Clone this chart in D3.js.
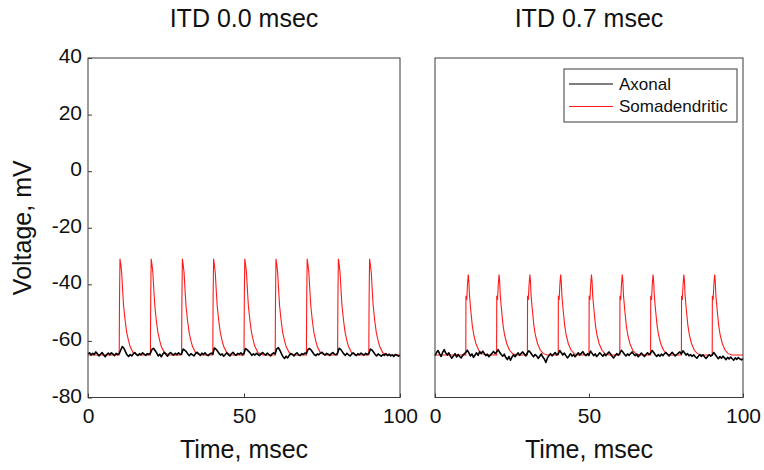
<!DOCTYPE html>
<html>
<head>
<meta charset="utf-8">
<script src="https://cdn.jsdelivr.net/npm/d3@7"></script>
<style>
	body { margin: 0; background: #fff; }
	text { font-family: "Liberation Sans", Arial, Helvetica, sans-serif; fill: #111; }
</style>
</head>
<body>
<div id="chart"></div>
<script>

// ----------------------------------
// DATA
// ----------------------------------

const panelTitles = ['ITD 0.0 msec', 'ITD 0.7 msec'];
const seriesNames = ['Axonal', 'Somadendritic'];
const timeTicks = [0, 50, 100];
const voltageTicks = [40, 20, 0, -20, -40, -60, -80];

// spike onset times (msec), same in both panels
const spikeOnsets = [10, 20, 30, 40, 50, 60, 70, 80, 90];
const restVoltage = -65;

// somadendritic spike waveform: [msec after onset, mV]
const spikeShape00 = [[0, -65], [0.1, -45], [0.25, -31], [0.5, -33], [0.8, -36], [1.1, -42],
	[1.4, -47.5], [1.9, -52.8], [2.4, -57], [3.0, -60], [3.5, -62], [4.5, -64.2], [6, -65]];
const spikeShape07 = [[0, -65], [0.05, -44], [0.3, -45.5], [0.55, -40], [0.8, -36.5], [1.0, -39],
	[1.2, -44], [1.6, -49], [2.1, -54.5], [2.6, -58], [3.3, -61], [4.2, -63.3], [5.2, -64.5], [6.5, -65]];

// axonal voltage, one sample every 0.5 msec from 0 to 100
const axonalStep = 0.5;
const axonal00 = [
	-64.6,-64.2,-65.0,-64.4,-64.8,-63.9,-64.5,-65.3,-64.7,-64.1,-64.9,-65.6,-64.8,-64.3,-64.9,-64.2,-64.7,-65.2,-64.4,-64.8,
	-64.5,-63.2,-62.0,-62.6,-63.8,-64.9,-65.5,-64.8,-65.3,-64.6,-64.1,-64.8,-65.2,-64.5,-64.9,-64.2,-64.7,-65.1,-64.5,-64.8,
	-64.3,-63.0,-62.6,-63.4,-64.2,-65.3,-64.7,-65.6,-64.6,-64.0,-64.8,-65.4,-64.5,-64.1,-64.7,-65.0,-64.4,-64.9,-64.2,-64.7,
	-64.6,-62.9,-63.3,-63.8,-64.6,-65.2,-64.5,-64.9,-65.3,-64.4,-64.0,-64.6,-65.1,-64.3,-64.8,-64.2,-64.9,-65.2,-64.6,-64.3,
	-64.7,-62.5,-62.9,-63.6,-64.4,-65.0,-64.6,-65.4,-64.8,-64.2,-64.9,-65.3,-64.5,-64.0,-64.8,-65.1,-64.4,-64.7,-64.2,-64.9,
	-64.4,-62.7,-63.1,-63.7,-64.3,-65.1,-64.6,-65.0,-64.4,-64.8,-65.2,-64.5,-64.1,-64.7,-65.0,-64.3,-64.8,-65.3,-64.6,-64.2,
	-64.6,-62.8,-62.4,-63.3,-64.5,-65.6,-66.2,-65.4,-66.0,-65.1,-64.5,-64.8,-65.3,-64.6,-64.2,-64.9,-65.2,-64.5,-64.8,-64.3,
	-64.5,-63.0,-62.7,-63.2,-64.0,-64.8,-65.2,-64.6,-64.9,-64.3,-64.0,-64.6,-65.0,-64.4,-64.7,-65.1,-64.5,-64.1,-64.7,-64.9,
	-64.3,-62.6,-63.0,-63.8,-64.6,-65.1,-64.4,-64.9,-65.3,-64.7,-64.2,-64.8,-65.2,-64.5,-64.9,-64.3,-64.7,-65.0,-64.4,-64.8,
	-64.5,-62.9,-63.2,-63.9,-64.7,-65.3,-64.6,-65.0,-65.4,-64.8,-65.1,-64.5,-65.2,-64.7,-65.3,-64.9,-65.5,-64.8,-65.0,-65.4,
	-65.1
];
const axonal07 = [
	-65.2,-64.1,-63.4,-64.6,-65.5,-64.0,-63.1,-64.3,-65.0,-64.2,-65.4,-66.1,-65.3,-64.5,-65.7,-64.8,-65.5,-66.0,-65.1,-64.6,
	-64.0,-63.3,-64.2,-65.3,-64.6,-65.8,-65.0,-64.2,-65.1,-63.8,-64.5,-63.6,-64.4,-65.2,-64.7,-65.6,-65.0,-64.4,-63.7,-64.5,
	-63.9,-63.1,-64.0,-64.8,-65.4,-64.7,-65.9,-66.6,-65.5,-66.8,-65.7,-64.9,-65.6,-64.8,-64.2,-65.1,-64.4,-63.9,-64.6,-65.3,
	-64.2,-63.5,-64.1,-64.9,-65.6,-64.8,-65.3,-66.2,-65.4,-64.6,-65.7,-66.4,-67.6,-66.0,-65.2,-64.5,-65.3,-64.7,-64.1,-64.9,
	-64.6,-63.4,-64.2,-65.0,-64.3,-65.2,-66.0,-65.3,-64.5,-65.4,-64.8,-65.6,-64.9,-64.2,-65.0,-64.4,-63.8,-64.7,-65.2,-64.5,
	-65.1,-63.6,-64.4,-65.2,-64.6,-65.5,-64.9,-64.2,-64.8,-65.4,-64.6,-65.2,-64.5,-63.9,-64.6,-65.4,-66.0,-65.2,-64.5,-65.0,
	-64.4,-63.3,-63.9,-64.7,-65.3,-64.6,-65.1,-64.5,-63.9,-64.6,-65.2,-64.7,-65.6,-65.0,-64.3,-64.9,-65.5,-64.8,-64.2,-64.8,
	-64.3,-63.4,-64.1,-64.9,-65.5,-64.8,-65.4,-64.7,-65.2,-64.5,-64.1,-64.8,-65.3,-64.6,-64.0,-64.7,-65.3,-64.8,-64.3,-63.9,
	-64.6,-63.5,-64.2,-65.0,-64.5,-65.3,-64.8,-65.5,-64.9,-65.6,-66.1,-65.4,-64.8,-65.5,-64.9,-65.6,-66.2,-65.5,-64.9,-65.4,
	-65.0,-64.1,-64.8,-65.6,-66.3,-65.5,-66.1,-65.4,-66.0,-66.6,-65.8,-66.4,-65.7,-66.3,-66.8,-66.0,-66.5,-65.9,-66.4,-66.7,
	-66.2
];

// ----------------------------------
// LAYOUT
// ----------------------------------

const width = 764,
	height = 470,
	plotTop = 58,
	plotBottom = 397.5,
	panelLefts = [88, 435],
	panelWidths = [312, 308];

const axonalColor = '#000',
	somaColor = '#ff1a1a',
	frameColor = '#3a3a3a';

// plain hyphen minus, like the reference
const tickText = d => String(d);

// build the full somadendritic trace from onsets + waveform
function buildSomaTrace(shape){
	const pts = [[0, restVoltage]];
	spikeOnsets.forEach(t0 => {
		shape.forEach(p => pts.push([t0 + p[0], p[1]]));
	});
	pts.push([100, restVoltage]);
	return pts;
}

const panels = [
	{ title: panelTitles[0], axonal: axonal00, soma: buildSomaTrace(spikeShape00), yLabels: true, legend: false },
	{ title: panelTitles[1], axonal: axonal07, soma: buildSomaTrace(spikeShape07), yLabels: false, legend: true }
];

const svg = d3.select('#chart')
	.append('svg')
	.attr('width', width)
	.attr('height', height);

const innerHeight = plotBottom - plotTop;

const yScale = d3.scaleLinear()
	.domain([-80, 40])
	.range([innerHeight, 0]);

panels.forEach((panel, idx) => {
	const innerWidth = panelWidths[idx];

	const g = svg.append('g')
		.attr('transform', `translate(${panelLefts[idx]}, ${plotTop})`);

	const xScale = d3.scaleLinear()
		.domain([0, 100])
		.range([0, innerWidth]);

	// ---- traces ----
	const line = d3.line()
		.x(d => xScale(d[0]))
		.y(d => yScale(d[1]));

	g.append('path')
		.datum(panel.soma)
		.attr('d', line)
		.attr('fill', 'none')
		.attr('stroke', somaColor)
		.attr('stroke-width', 1.1);

	g.append('path')
		.datum(panel.axonal.map((v, i) => [i * axonalStep, v]))
		.attr('d', line)
		.attr('fill', 'none')
		.attr('stroke', axonalColor)
		.attr('stroke-width', 1.6)
		.attr('stroke-linejoin', 'round');

	// ---- axes ----
	const xAxis = g.append('g')
		.attr('class', 'x axis')
		.attr('transform', `translate(0, ${innerHeight})`)
		.call(d3.axisBottom(xScale).tickValues(timeTicks).tickFormat(tickText)
			.tickSizeInner(-4).tickSizeOuter(0).tickPadding(11));

	xAxis.select('.domain').remove();
	xAxis.selectAll('line').attr('stroke', frameColor);
	xAxis.selectAll('text')
		.style('font-size', '21px')
		.attr('fill', '#111');

	if (panel.yLabels){
		const yAxis = g.append('g')
			.attr('class', 'y axis')
			.call(d3.axisLeft(yScale).tickValues(voltageTicks).tickFormat(tickText)
				.tickSizeInner(-4).tickSizeOuter(0).tickPadding(6));

		yAxis.select('.domain').remove();
		yAxis.selectAll('line').attr('stroke', frameColor);
		yAxis.selectAll('text')
			.style('font-size', '21px')
			.attr('dy', '0.22em')
			.attr('fill', '#111');
	}

	// ---- frame ----
	g.append('rect')
		.attr('x', 0)
		.attr('y', 0)
		.attr('width', innerWidth)
		.attr('height', innerHeight)
		.attr('fill', 'none')
		.attr('stroke', frameColor)
		.attr('stroke-width', 1);

	// ---- title + x label ----
	g.append('text')
		.attr('x', innerWidth / 2)
		.attr('y', 27 - plotTop)
		.attr('text-anchor', 'middle')
		.style('font-size', '25px')
		.text(panel.title);

	g.append('text')
		.attr('x', innerWidth / 2)
		.attr('y', 458 - plotTop)
		.attr('text-anchor', 'middle')
		.style('font-size', '25px')
		.text('Time, msec');

	// ---- legend ----
	if (panel.legend){
		const lg = g.append('g')
			.attr('transform', `translate(${564 - panelLefts[idx]}, ${69 - plotTop})`);

		lg.append('rect')
			.attr('width', 173)
			.attr('height', 53)
			.attr('fill', '#fff')
			.attr('stroke', frameColor)
			.attr('stroke-width', 1);

		[axonalColor, somaColor].forEach((c, i) => {
			const rowY = 15 + i * 22.5;
			lg.append('line')
				.attr('x1', 5).attr('x2', 49)
				.attr('y1', rowY).attr('y2', rowY)
				.attr('stroke', c)
				.attr('stroke-width', 1);
			lg.append('text')
				.attr('x', 55)
				.attr('y', rowY)
				.attr('dy', '0.35em')
				.style('font-size', '17px')
				.attr('fill', '#222')
				.text(seriesNames[i]);
		});
	}
});

// y label shared by both panels
svg.append('text')
	.attr('transform', `translate(31, ${(plotTop + plotBottom) / 2}) rotate(-90)`)
	.attr('text-anchor', 'middle')
	.style('font-size', '25px')
	.text('Voltage, mV');

</script>
</body>
</html>
